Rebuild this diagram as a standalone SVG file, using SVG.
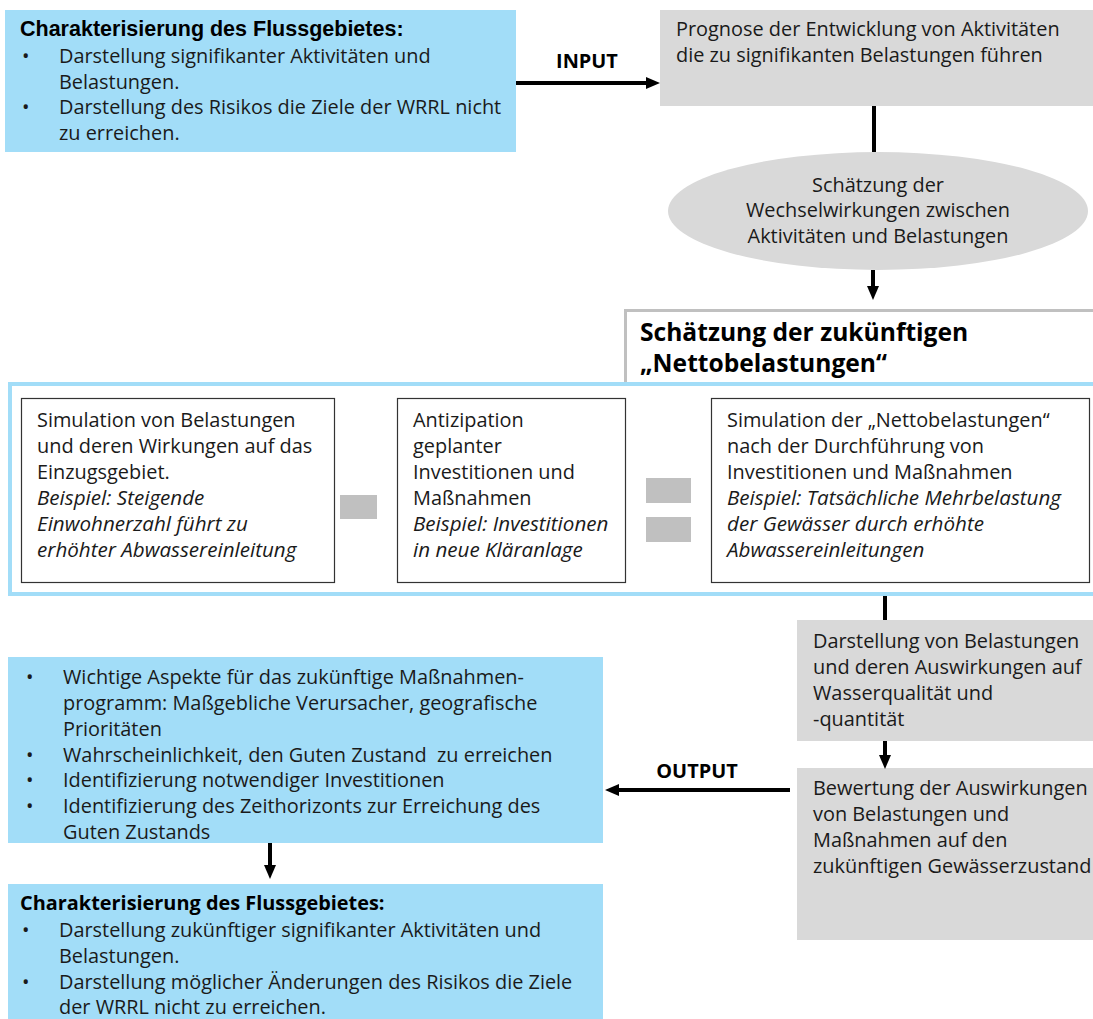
<svg xmlns="http://www.w3.org/2000/svg" width="1093" height="1019" viewBox="0 0 1093 1019">
<style>
.t{font-family:"Open Sans","Noto Sans",sans-serif;font-size:19.9px;fill:#1a1a1a}
.i{font-style:italic;font-size:20.6px}
.hb{font-family:"Liberation Sans",Arial,sans-serif;font-weight:bold;font-size:21.5px;fill:#000}
.ob{font-family:"Open Sans","Noto Sans",sans-serif;font-weight:bold;font-size:19.9px;fill:#000}
.ttl{font-size:24.6px}
.blue{fill:#a2ddf8}
.gray{fill:#d9d9d9}
.inner{fill:#fff;stroke:#333;stroke-width:1.2}
.ln{stroke:#000;stroke-width:4;fill:none}
.op{fill:#c0c0c0}
</style>
<defs>
<marker id="ah" markerWidth="14" markerHeight="14" refX="4" refY="7" orient="auto" markerUnits="userSpaceOnUse" viewBox="0 0 14 14">
<path d="M0,1 L14,7 L0,13 z" fill="#000"/>
</marker>
</defs>
<rect width="1093" height="1019" fill="#fff"/>

<g id="char-top">
<rect class="blue" x="5" y="10" width="511" height="142"/>
<text class="hb" x="20" y="36">Charakterisierung des Flussgebietes:</text>
<text class="t" x="22" y="63">•</text><text class="t" x="59" y="63">Darstellung signifikanter Aktivitäten und</text>
<text class="t" x="59" y="89">Belastungen.</text>
<text class="t" x="22" y="114">•</text><text class="t" x="59" y="114">Darstellung des Risikos die Ziele der WRRL nicht</text>
<text class="t" x="59" y="140">zu erreichen.</text>
</g>

<g id="prognose">
<rect class="gray" x="660" y="10" width="433" height="96"/>
<text class="t" x="676" y="36">Prognose der Entwicklung von Aktivitäten</text>
<text class="t" x="676" y="62">die zu signifikanten Belastungen führen</text>
</g>

<g id="schaetzung-wechsel">
<ellipse class="gray" cx="878" cy="211" rx="210" ry="59"/>
<text class="t" x="878" y="192" text-anchor="middle">Schätzung der</text>
<text class="t" x="878" y="217" text-anchor="middle">Wechselwirkungen zwischen</text>
<text class="t" x="878" y="243" text-anchor="middle">Aktivitäten und Belastungen</text>
</g>

<g id="netto-header">
<path d="M625.5,384 V310.5 H1093" fill="none" stroke="#c0c0c0" stroke-width="3"/>
<text class="ob ttl" x="640" y="341">Schätzung der zukünftigen</text>
<text class="ob ttl" x="640" y="372">„Nettobelastungen“</text>
</g>

<g id="netto-frame">
<rect x="10" y="384" width="1090" height="210" fill="none" stroke="#a2ddf8" stroke-width="4"/>
</g>

<g id="sim-belastungen">
<rect class="inner" x="21.5" y="398.5" width="313" height="184"/>
<text class="t" x="37" y="427">Simulation von Belastungen</text>
<text class="t" x="37" y="453">und deren Wirkungen auf das</text>
<text class="t" x="37" y="479">Einzugsgebiet.</text>
<text class="t i" x="37" y="505">Beispiel: Steigende</text>
<text class="t i" x="37" y="531">Einwohnerzahl führt zu</text>
<text class="t i" x="37" y="557">erhöhter Abwassereinleitung</text>
</g>

<g id="minus">
<rect class="op" x="340" y="495" width="37" height="24"/>
</g>

<g id="antizipation">
<rect class="inner" x="397.5" y="398.5" width="228" height="184"/>
<text class="t" x="413" y="427">Antizipation</text>
<text class="t" x="413" y="453">geplanter</text>
<text class="t" x="413" y="479">Investitionen und</text>
<text class="t" x="413" y="505">Maßnahmen</text>
<text class="t i" x="413" y="531">Beispiel: Investitionen</text>
<text class="t i" x="413" y="557">in neue Kläranlage</text>
</g>

<g id="equals">
<rect class="op" x="646" y="478" width="45" height="25"/>
<rect class="op" x="646" y="517" width="45" height="25"/>
</g>

<g id="sim-netto">
<rect class="inner" x="711.5" y="398.5" width="378" height="184"/>
<text class="t" x="727" y="427">Simulation der „Nettobelastungen“</text>
<text class="t" x="727" y="453">nach der Durchführung von</text>
<text class="t" x="727" y="479">Investitionen und Maßnahmen</text>
<text class="t i" x="727" y="505">Beispiel: Tatsächliche Mehrbelastung</text>
<text class="t i" x="727" y="531">der Gewässer durch erhöhte</text>
<text class="t i" x="727" y="557">Abwassereinleitungen</text>
</g>

<g id="darstellung">
<rect class="gray" x="797" y="620" width="296" height="121"/>
<text class="t" x="813" y="648">Darstellung von Belastungen</text>
<text class="t" x="813" y="674">und deren Auswirkungen auf</text>
<text class="t" x="813" y="700">Wasserqualität und</text>
<text class="t" x="813" y="726">-quantität</text>
</g>

<g id="bewertung">
<rect class="gray" x="797" y="768" width="296" height="172"/>
<text class="t" x="813" y="795">Bewertung der Auswirkungen</text>
<text class="t" x="813" y="821">von Belastungen und</text>
<text class="t" x="813" y="847">Maßnahmen auf den</text>
<text class="t" x="813" y="873">zukünftigen Gewässerzustand</text>
</g>

<g id="aspekte">
<rect class="blue" x="8" y="657" width="595" height="186"/>
<text class="t" x="26" y="684">•</text><text class="t" x="63" y="684">Wichtige Aspekte für das zukünftige Maßnahmen-</text>
<text class="t" x="63" y="710">programm: Maßgebliche Verursacher, geografische</text>
<text class="t" x="63" y="736">Prioritäten</text>
<text class="t" x="26" y="762">•</text><text class="t" x="63" y="762" xml:space="preserve">Wahrscheinlichkeit, den Guten Zustand  zu erreichen</text>
<text class="t" x="26" y="787">•</text><text class="t" x="63" y="787">Identifizierung notwendiger Investitionen</text>
<text class="t" x="26" y="813">•</text><text class="t" x="63" y="813">Identifizierung des Zeithorizonts zur Erreichung des</text>
<text class="t" x="63" y="839">Guten Zustands</text>
</g>

<g id="char-bottom">
<rect class="blue" x="8" y="884" width="595" height="135"/>
<text class="ob" x="20" y="910">Charakterisierung des Flussgebietes:</text>
<text class="t" x="22" y="937">•</text><text class="t" x="59" y="937">Darstellung zukünftiger signifikanter Aktivitäten und</text>
<text class="t" x="59" y="963">Belastungen.</text>
<text class="t" x="22" y="989">•</text><text class="t" x="59" y="989">Darstellung möglicher Änderungen des Risikos die Ziele</text>
<text class="t" x="59" y="1014">der WRRL nicht zu erreichen.</text>
</g>

<g id="connectors">
<line class="ln" x1="516" y1="83" x2="650" y2="83" marker-end="url(#ah)"/>
<text class="ob" x="587" y="68" text-anchor="middle">INPUT</text>
<line class="ln" x1="874" y1="106" x2="874" y2="152"/>
<line class="ln" x1="873" y1="270" x2="873" y2="290" marker-end="url(#ah)"/>
<line class="ln" x1="885" y1="596" x2="885" y2="620"/>
<line class="ln" x1="885" y1="741" x2="885" y2="759" marker-end="url(#ah)"/>
<line class="ln" x1="790" y1="790" x2="615" y2="790" marker-end="url(#ah)"/>
<text class="ob" x="697" y="778" text-anchor="middle">OUTPUT</text>
<line class="ln" x1="270" y1="843" x2="270" y2="869" marker-end="url(#ah)"/>
</g>
</svg>
